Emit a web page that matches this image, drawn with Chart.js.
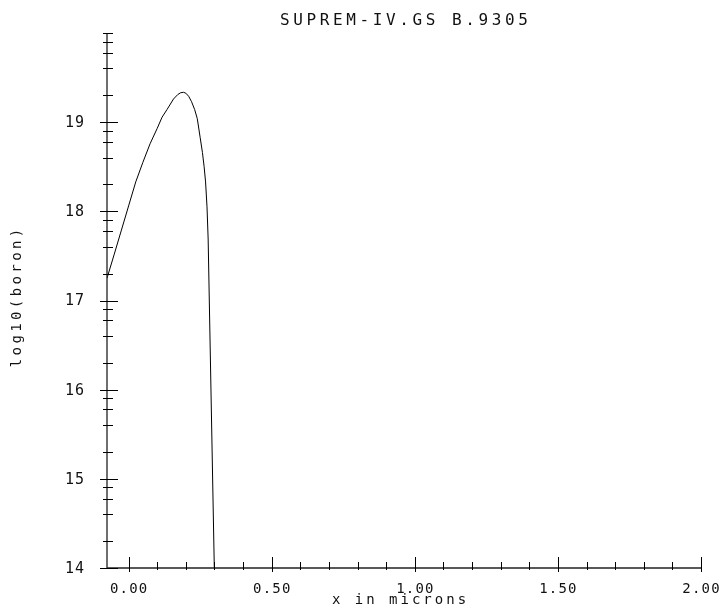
<!DOCTYPE html>
<html>
<head>
<meta charset="utf-8">
<script src="https://cdn.jsdelivr.net/npm/chart.js@4/dist/chart.umd.min.js"></script>
<style>
  html, body { margin: 0; padding: 0; background: #fff; }
  #wrap { width: 722px; height: 609px; }
</style>
</head>
<body>
<div id="wrap"><canvas id="c" width="722" height="609"></canvas></div>
<script>
// ---- data ----
const chartTitle = 'SUPREM-IV.GS B.9305';
const xAxisTitle = 'x in microns';
const yAxisTitle = 'log10(boron)';

const xMicrons = [-0.0754, -0.05, -0.025, 0.0, 0.025, 0.05, 0.075, 0.10, 0.117, 0.134, 0.157,
                  0.172, 0.182, 0.192, 0.200, 0.210, 0.220, 0.231, 0.240, 0.250, 0.258,
                  0.264, 0.269, 0.274, 0.278, 0.2995];
const log10Boron = [17.25, 17.52, 17.79, 18.06, 18.33, 18.55, 18.757, 18.93, 19.056, 19.14, 19.26,
                    19.31, 19.33, 19.335, 19.325, 19.29, 19.23, 19.14, 19.04, 18.83, 18.66,
                    18.50, 18.33, 18.05, 17.69, 14.0];

const xMin = -0.0754, xMax = 2.0;
const yMin = 14, yMax = 20;
const xMajorTicks = [0, 0.5, 1.0, 1.5, 2.0];
const xTickLabels = ['0.00', '0.50', '1.00', '1.50', '2.00'];
const xMinorStep = 0.1;
const yMajorTicks = [14, 15, 16, 17, 18, 19];
const yTickLabels = ['14', '15', '16', '17', '18', '19'];
const yMinorFactors = [2, 4, 6, 8];   // minor ticks at log10 of these inside each decade

const FONT = '"DejaVu Sans Mono", "Liberation Mono", monospace';

function drawSpacedText(ctx, text, x, y, size, spacing, align, baseline, rotate) {
  ctx.save();
  ctx.font = size + 'px ' + FONT;
  ctx.letterSpacing = '0px';
  const w = ctx.measureText(text).width + spacing * (text.length - 1);
  ctx.letterSpacing = spacing + 'px';
  ctx.textAlign = 'left';
  ctx.textBaseline = baseline;
  ctx.fillStyle = '#111';
  ctx.translate(x, y);
  if (rotate) ctx.rotate(rotate);
  let x0 = 0;
  if (align === 'center') x0 = -w / 2;
  else if (align === 'right') x0 = -w;
  ctx.fillText(text, x0, 0);
  ctx.restore();
}

const axesPlugin = {
  id: 'supremAxes',
  afterDraw(chart) {
    const ctx = chart.ctx;
    const xs = chart.scales.x, ys = chart.scales.y;
    const area = chart.chartArea;
    const x0 = Math.round(xs.getPixelForValue(xMin));
    const yBottom = Math.round(ys.getPixelForValue(yMin));
    const yTop = Math.round(ys.getPixelForValue(yMax));
    const xRight = Math.round(xs.getPixelForValue(xMax));

    ctx.save();
    ctx.strokeStyle = '#222';
    ctx.lineWidth = 1.3;
    // axis lines
    ctx.beginPath();
    ctx.moveTo(x0, yTop); ctx.lineTo(x0, yBottom);
    ctx.moveTo(x0, yBottom); ctx.lineTo(xRight, yBottom);
    ctx.stroke();

    ctx.strokeStyle = '#000';
    ctx.lineWidth = 1;
    // y major ticks
    ctx.beginPath();
    yMajorTicks.forEach(v => {
      const p = Math.round(ys.getPixelForValue(v)) + 0.5;
      ctx.moveTo(x0 - 7, p); ctx.lineTo(x0 + 11, p);
    });
    // y top tick (20)
    {
      const p = Math.round(ys.getPixelForValue(yMax)) + 0.5;
      ctx.moveTo(x0 - 4, p); ctx.lineTo(x0 + 6, p);
    }
    // y minor ticks
    for (let d = yMin; d < yMax; d++) {
      yMinorFactors.forEach(f => {
        const p = Math.round(ys.getPixelForValue(d + Math.log10(f))) + 0.5;
        ctx.moveTo(x0 - 4, p); ctx.lineTo(x0 + 6, p);
      });
    }
    // x major ticks
    xMajorTicks.forEach(v => {
      const p = Math.round(xs.getPixelForValue(v)) + 0.5;
      ctx.moveTo(p, yBottom + 4); ctx.lineTo(p, yBottom - 11);
    });
    // x minor ticks
    for (let i = 1; i * xMinorStep < xMax - 1e-9; i++) {
      const v = i * xMinorStep;
      if (Math.abs(v * 2 - Math.round(v * 2)) < 1e-6) continue;
      const p = Math.round(xs.getPixelForValue(v)) + 0.5;
      ctx.moveTo(p, yBottom + 2); ctx.lineTo(p, yBottom - 6);
    }
    ctx.stroke();
    ctx.restore();

    // tick labels
    yMajorTicks.forEach((v, i) => {
      drawSpacedText(ctx, yTickLabels[i], x0 - 42, ys.getPixelForValue(v) + 1, 15, 1, 'left', 'middle');
    });
    xMajorTicks.forEach((v, i) => {
      drawSpacedText(ctx, xTickLabels[i], xs.getPixelForValue(v), yBottom + 14, 14, 1.2, 'center', 'top');
    });

    // titles
    drawSpacedText(ctx, chartTitle, (area.left + area.right) / 2, 21, 16, 3.6, 'center', 'middle');
    drawSpacedText(ctx, xAxisTitle, (area.left + area.right) / 2 - 5, 600, 14, 3.0, 'center', 'middle');
    drawSpacedText(ctx, yAxisTitle, 17, 298, 14, 3.4, 'center', 'middle', -Math.PI / 2);
  }
};

new Chart(document.getElementById('c'), {
  type: 'line',
  data: {
    datasets: [{
      data: xMicrons.map((x, i) => ({ x: x, y: log10Boron[i] })),
      borderColor: '#000',
      borderWidth: 1,
      pointRadius: 0,
      tension: 0,
      fill: false
    }]
  },
  options: {
    responsive: false,
    animation: false,
    devicePixelRatio: 1,
    layout: { padding: { left: 107, right: 21, top: 33, bottom: 41 } },
    scales: {
      x: { type: 'linear', min: xMin, max: xMax, display: false },
      y: { type: 'linear', min: yMin, max: yMax, display: false }
    },
    plugins: { legend: { display: false }, tooltip: { enabled: false }, title: { display: false } }
  },
  plugins: [axesPlugin]
});
</script>
</body>
</html>
